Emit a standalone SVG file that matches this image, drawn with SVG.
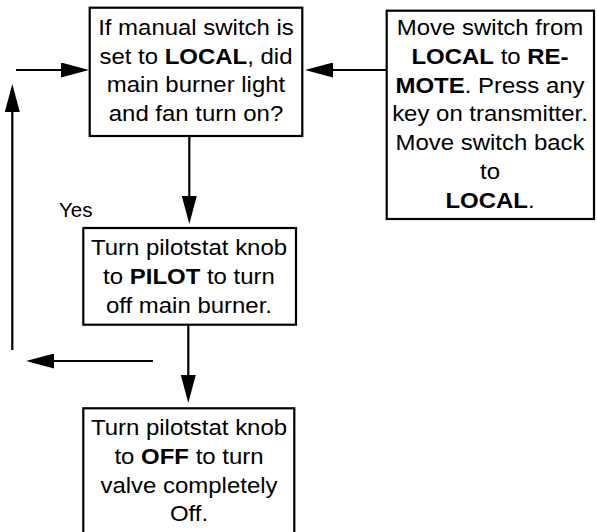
<svg xmlns="http://www.w3.org/2000/svg" width="597" height="532" viewBox="0 0 597 532">
<style>
.box{fill:#fff;stroke:#000;stroke-width:2.2}
.t{font-family:"Liberation Sans",Arial,sans-serif;font-size:22.5px;fill:#000;text-anchor:middle}
.b{font-weight:bold}
.c{fill:none;stroke:#000;stroke-width:2.2}
</style>
<defs>
<marker id="ah" viewBox="0 0 28 15" markerWidth="28" markerHeight="15" refX="0" refY="7.5" orient="auto" markerUnits="userSpaceOnUse">
<path d="M0,0 L28,7.5 L0,15 z" fill="#000"/>
</marker>
</defs>
<rect width="597" height="532" fill="#fff"/>
<g id="connectors">
<path class="c" d="M386.7,70 H333" marker-end="url(#ah)"/>
<path class="c" d="M16,70 H61" marker-end="url(#ah)"/>
<path class="c" d="M12.3,350 V112" marker-end="url(#ah)"/>
<path class="c" d="M189.3,136 V196" marker-end="url(#ah)"/>
<path class="c" d="M153,361 H54" marker-end="url(#ah)"/>
<path class="c" d="M188.3,325 V375" marker-end="url(#ah)"/>
<text class="t" x="59" y="216.7" style="text-anchor:start;font-size:20.5px">Yes</text>
</g>
<g id="n1">
<rect class="box" x="89.7" y="7.7" width="212.6" height="128.3"/>
<g transform="matrix(1.065 0 0 1 -12.74 0)">
<text class="t" x="196" y="35.5">If manual switch is</text>
<text class="t" x="196" y="64">set to <tspan class="b">LOCAL</tspan>, did</text>
<text class="t" x="196" y="92.5">main burner light</text>
<text class="t" x="196" y="121">and fan turn on?</text>
</g>
</g>
<g id="n2">
<rect class="box" x="386.7" y="10.7" width="207.3" height="208.3"/>
<g transform="matrix(1.065 0 0 1 -31.85 0)">
<text class="t" x="490" y="35">Move switch from</text>
<text class="t" x="490" y="63.8"><tspan class="b">LOCAL</tspan> to <tspan class="b">RE-</tspan></text>
<text class="t" x="490" y="92.6"><tspan class="b">MOTE</tspan>. Press any</text>
<text class="t" x="490" y="121.4">key on transmitter.</text>
<text class="t" x="490" y="150.2">Move switch back</text>
<text class="t" x="490" y="179">to</text>
<text class="t" x="490" y="207.8"><tspan class="b">LOCAL</tspan>.</text>
</g>
</g>
<g id="n3">
<rect class="box" x="83.3" y="228" width="212.7" height="96.7"/>
<g transform="matrix(1.065 0 0 1 -12.29 0)">
<text class="t" x="189" y="255">Turn pilotstat knob</text>
<text class="t" x="189" y="283.8">to <tspan class="b">PILOT</tspan> to turn</text>
<text class="t" x="189" y="312.6">off main burner.</text>
</g>
</g>
<g id="n4">
<rect class="box" x="83.3" y="408.3" width="211" height="130"/>
<g transform="matrix(1.065 0 0 1 -12.29 0)">
<text class="t" x="189" y="435">Turn pilotstat knob</text>
<text class="t" x="189" y="463.8">to <tspan class="b">OFF</tspan> to turn</text>
<text class="t" x="189" y="492.6">valve completely</text>
<text class="t" x="189" y="521.4">Off.</text>
</g>
</g>
</svg>
